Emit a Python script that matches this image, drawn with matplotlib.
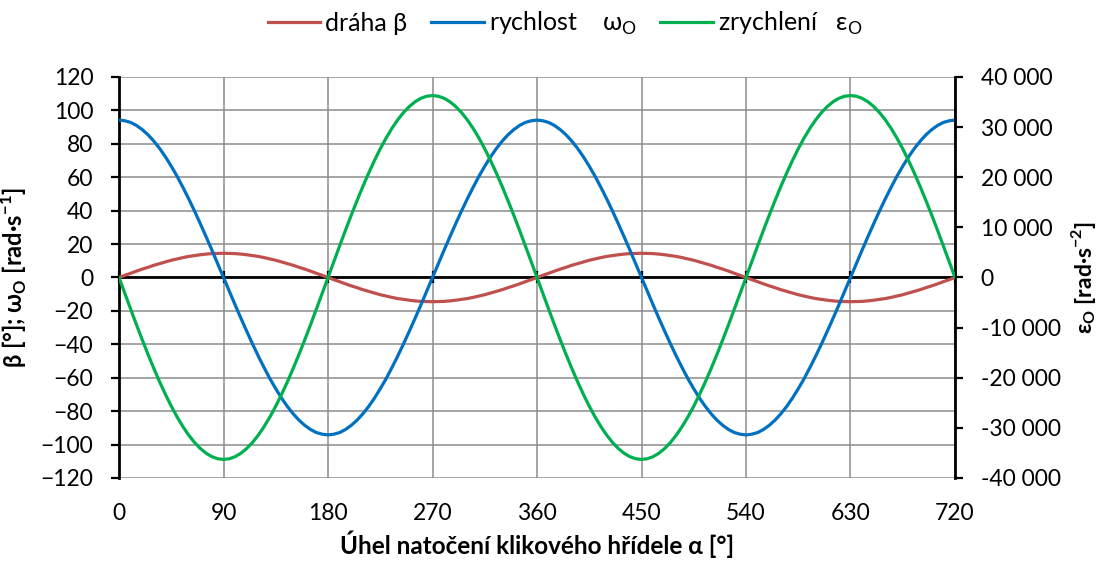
import matplotlib.pyplot as plt

plt.rcParams['font.family'] = ['Lato', 'DejaVu Sans']
plt.rcParams['mathtext.fontset'] = 'custom'
plt.rcParams['mathtext.rm'] = 'Lato'
plt.rcParams['mathtext.bf'] = 'Lato:bold'

# crank angle [deg], 5 deg step
alpha = list(range(0, 721, 5))

# beta [deg]
beta = [0, 1.3, 2.5, 3.8, 5.0, 6.1, 7.3, 8.3, 9.3, 10.3, 11.1, 11.9, 12.6, 13.1, 13.6, 14.0, 14.3, 14.4, 14.5,
        14.4, 14.3, 14.0, 13.6, 13.1, 12.6, 11.9, 11.1, 10.3, 9.3, 8.3, 7.3, 6.1, 5.0, 3.8, 2.5, 1.3, 0,
        -1.3, -2.5, -3.8, -5.0, -6.1, -7.3, -8.3, -9.3, -10.3, -11.1, -11.9, -12.6, -13.1, -13.6, -14.0, -14.3, -14.4, -14.5,
        -14.4, -14.3, -14.0, -13.6, -13.1, -12.6, -11.9, -11.1, -10.3, -9.3, -8.3, -7.3, -6.1, -5.0, -3.8, -2.5, -1.3, 0,
        1.3, 2.5, 3.8, 5.0, 6.1, 7.3, 8.3, 9.3, 10.3, 11.1, 11.9, 12.6, 13.1, 13.6, 14.0, 14.3, 14.4, 14.5,
        14.4, 14.3, 14.0, 13.6, 13.1, 12.6, 11.9, 11.1, 10.3, 9.3, 8.3, 7.3, 6.1, 5.0, 3.8, 2.5, 1.3, 0,
        -1.3, -2.5, -3.8, -5.0, -6.1, -7.3, -8.3, -9.3, -10.3, -11.1, -11.9, -12.6, -13.1, -13.6, -14.0, -14.3, -14.4, -14.5,
        -14.4, -14.3, -14.0, -13.6, -13.1, -12.6, -11.9, -11.1, -10.3, -9.3, -8.3, -7.3, -6.1, -5.0, -3.8, -2.5, -1.3, 0]

# omega_O [rad/s]
omega = [94.2, 93.8, 92.8, 91.0, 88.5, 85.4, 81.6, 77.2, 72.2, 66.6, 60.6, 54.0, 47.1, 39.8, 32.2, 24.4, 16.4, 8.2, 0,
         -8.2, -16.4, -24.4, -32.2, -39.8, -47.1, -54.0, -60.6, -66.6, -72.2, -77.2, -81.6, -85.4, -88.5, -91.0, -92.8, -93.8, -94.2,
         -93.8, -92.8, -91.0, -88.5, -85.4, -81.6, -77.2, -72.2, -66.6, -60.6, -54.0, -47.1, -39.8, -32.2, -24.4, -16.4, -8.2, 0,
         8.2, 16.4, 24.4, 32.2, 39.8, 47.1, 54.0, 60.6, 66.6, 72.2, 77.2, 81.6, 85.4, 88.5, 91.0, 92.8, 93.8, 94.2,
         93.8, 92.8, 91.0, 88.5, 85.4, 81.6, 77.2, 72.2, 66.6, 60.6, 54.0, 47.1, 39.8, 32.2, 24.4, 16.4, 8.2, 0,
         -8.2, -16.4, -24.4, -32.2, -39.8, -47.1, -54.0, -60.6, -66.6, -72.2, -77.2, -81.6, -85.4, -88.5, -91.0, -92.8, -93.8, -94.2,
         -93.8, -92.8, -91.0, -88.5, -85.4, -81.6, -77.2, -72.2, -66.6, -60.6, -54.0, -47.1, -39.8, -32.2, -24.4, -16.4, -8.2, 0,
         8.2, 16.4, 24.4, 32.2, 39.8, 47.1, 54.0, 60.6, 66.6, 72.2, 77.2, 81.6, 85.4, 88.5, 91.0, 92.8, 93.8, 94.2]

# epsilon_O [rad/s^2]
eps = [0, -3160, -6300, -9400, -12420, -15340, -18150, -20820, -23330, -25670, -27810, -29740, -31440, -32900, -34110, -35060, -35750, -36160, -36300,
       -36160, -35750, -35060, -34110, -32900, -31440, -29740, -27810, -25670, -23330, -20820, -18150, -15340, -12420, -9400, -6300, -3160, 0,
       3160, 6300, 9400, 12420, 15340, 18150, 20820, 23330, 25670, 27810, 29740, 31440, 32900, 34110, 35060, 35750, 36160, 36300,
       36160, 35750, 35060, 34110, 32900, 31440, 29740, 27810, 25670, 23330, 20820, 18150, 15340, 12420, 9400, 6300, 3160, 0,
       -3160, -6300, -9400, -12420, -15340, -18150, -20820, -23330, -25670, -27810, -29740, -31440, -32900, -34110, -35060, -35750, -36160, -36300,
       -36160, -35750, -35060, -34110, -32900, -31440, -29740, -27810, -25670, -23330, -20820, -18150, -15340, -12420, -9400, -6300, -3160, 0,
       3160, 6300, 9400, 12420, 15340, 18150, 20820, 23330, 25670, 27810, 29740, 31440, 32900, 34110, 35060, 35750, 36160, 36300,
       36160, 35750, 35060, 34110, 32900, 31440, 29740, 27810, 25670, 23330, 20820, 18150, 15340, 12420, 9400, 6300, 3160, 0]

red = '#C0504D'
blue = '#0070C0'
green = '#00B050'

fig = plt.figure(figsize=(11.02, 5.64), dpi=100)
ax = fig.add_axes([0.108, 0.1525, 0.7586, 0.711])
ax2 = ax.twinx()

ax.set_xlim(0, 720)
ax.set_ylim(-120, 120)
ax2.set_ylim(-40000, 40000)
ax.set_xticks(range(0, 721, 90))
ax.set_yticks(range(-120, 121, 20))
ax2.set_yticks(range(-40000, 40001, 10000))
ax2.set_yticklabels([f'{v:,}'.replace(',', ' ') for v in range(-40000, 40001, 10000)])

ax.grid(True, axis='both', color='#8c8c8c', lw=1.1)
ax.set_axisbelow(True)
ax.axhline(0, color='black', lw=2.0, zorder=1.5)

for s in ['top', 'bottom']:
    ax.spines[s].set_visible(False)
for s in ['top', 'bottom', 'left']:
    ax2.spines[s].set_visible(False)
ax.spines['left'].set_linewidth(2.0)
ax.spines['right'].set_visible(False)
ax2.spines['right'].set_linewidth(2.0)

# small tick marks on the zero line
ax.spines['top'].set_position(('data', 0))
ax.tick_params(axis='x', bottom=False, top=True, labeltop=False, labelbottom=True,
               direction='inout', length=8, width=1.6, pad=14, labelsize=16.5)
ax.tick_params(axis='y', direction='out', length=5.5, width=1.6, pad=13, labelsize=16.5)
ax2.tick_params(axis='y', direction='out', length=5.5, width=1.6, pad=13, labelsize=16.5)

l1, = ax.plot(alpha, beta, color=red, lw=2.3, zorder=3)
l2, = ax.plot(alpha, omega, color=blue, lw=2.3, zorder=3)
l3, = ax2.plot(alpha, eps, color=green, lw=2.3, zorder=3)

ax.set_xlabel('Úhel natočení klikového hřídele α [°]', fontsize=17.5, fontweight='bold', labelpad=5)
ax.set_ylabel(r'β [°]; ω$_\mathbf{O}$ [rad·s$^\mathbf{-1}$]', fontsize=17, fontweight='bold', labelpad=8)
ax2.set_ylabel(r'ε$_\mathbf{O}$ [rad·s$^\mathbf{-2}$]', fontsize=16.5, fontweight='bold', labelpad=6)

fig.legend([l1, l2, l3], ['dráha β', r'rychlost    ω$_\mathrm{O}$', r'zrychlení   ε$_\mathrm{O}$'],
           loc='upper center', bbox_to_anchor=(0.5127, 1.022), ncol=3, frameon=False,
           fontsize=18, handlelength=2.1, handletextpad=0.2, columnspacing=0.95)

fig.savefig('out.png', dpi=100)
